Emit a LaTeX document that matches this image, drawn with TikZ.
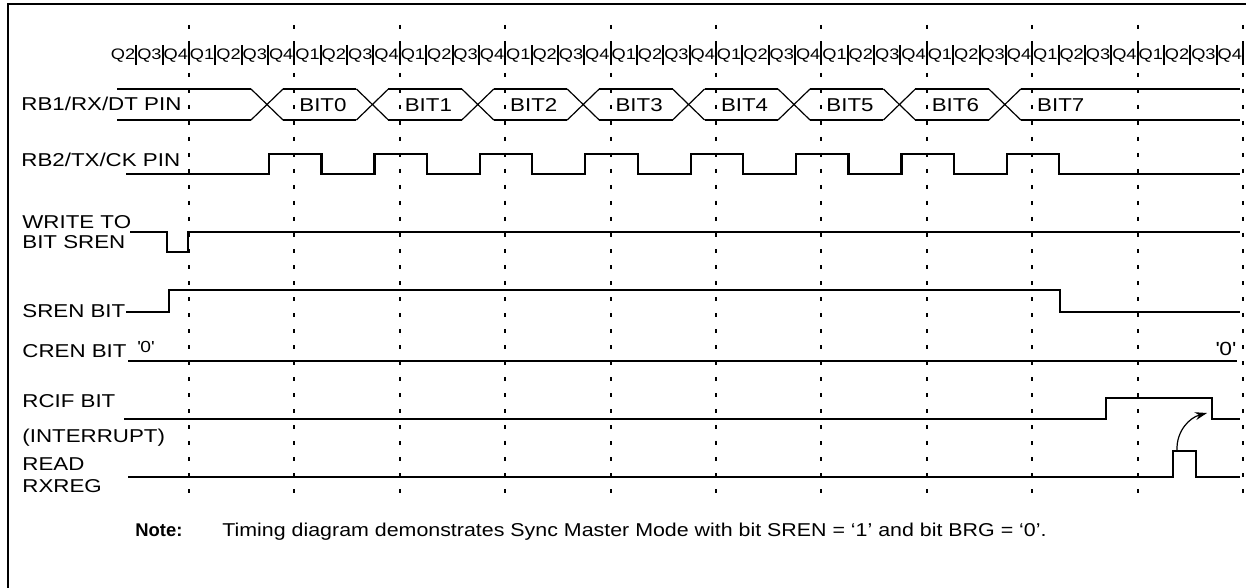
\documentclass[tikz,border=0pt]{standalone}
\usepackage{fontspec}
\setmainfont{Liberation Sans}[FakeStretch=1.2]
\newfontfamily\notefont{Liberation Sans}
\newfontfamily\notewide{Liberation Sans}[FakeStretch=1.15]
\usetikzlibrary{arrows.meta}

\begin{document}
\begin{tikzpicture}[x=0.5pt, y=-0.5pt,
  sig/.style={line width=1.1pt},
  bus/.style={line width=0.6pt},
  grid/.style={line width=1pt, dash pattern=on 2pt off 6pt},
  lbl/.style={anchor=base west, inner sep=0pt, font=\fontsize{9.3}{11}\selectfont},
  qlbl/.style={anchor=base, inner sep=0pt, font=\fontsize{7.6}{8}\selectfont}]
  \useasboundingbox (0,0) rectangle (1246,588);
  \draw[line width=1pt] (7.5,588) -- (7.5,4) -- (1246,4);
  \foreach \k in {0,...,10}
    \draw[grid] ({189+105.4*\k},25) -- ({189+105.4*\k},502);
  \foreach \i in {0,...,42} {
    \pgfmathtruncatemacro{\q}{mod(\i+1,4)+1}
    \node[qlbl] (q\i) at ({123.1+26.35*\i},60) {Q\q};
    \draw[line width=1pt] ({136.3+26.35*\i},45) -- ++(0,20);
  }

  \node[lbl] (rxpin) at (21,111) {RB1/RX/DT PIN};
  \draw[bus] (117,89) -- (251,89) (117,120) -- (251,120);
  \foreach \k in {0,...,7}
    \draw[bus] ({251+105.4*\k},89) -- ({283+105.4*\k},120) ({251+105.4*\k},120) -- ({283+105.4*\k},89);
  \foreach \k in {0,...,6}
    \draw[bus] ({283+105.4*\k},89) -- ({356.4+105.4*\k},89) ({283+105.4*\k},120) -- ({356.4+105.4*\k},120);
  \draw[sig] (1020.8,89) -- (1240,89) (1020.8,120) -- (1240,120);
  \foreach \k in {0,...,7}
    \node[lbl] (bit\k) at ({299+105.4*\k},111.5) {BIT\k};

  \node[lbl] (ckpin) at (21,167) {RB2/TX/CK PIN};
  \draw[sig] (126,174) \foreach \k in {0,...,7} {
      -- ({269+105.4*\k},174) -- ({269+105.4*\k},154)
      -- ({321.4+105.4*\k},154) -- ({321.4+105.4*\k},174)} -- (1240,174);

  \node[lbl] (wrto) at (22,228) {WRITE TO};
  \node[lbl] (wrbit) at (22,249) {BIT SREN};
  \draw[sig] (130,232) -- (167,232) -- (167,252) -- (188,252) -- (188,232) -- (1240,232);

  \node[lbl] (srenbit) at (22,317.5) {SREN BIT};
  \draw[sig] (126,312) -- (169,312) -- (169,290) -- (1060,290) -- (1060,312) -- (1240,312);

  \node[lbl] (crenbit) at (22,357) {CREN BIT};
  \draw[sig] (128,361) -- (1237,361);
  \node[anchor=base west, inner sep=0pt, font=\fontsize{8}{9}\selectfont] (crenlo) at (137,352) {\textquotesingle 0\textquotesingle};
  \node[anchor=base east, inner sep=0pt, font=\fontsize{9.5}{11}\selectfont] (crenhi) at (1236,355) {\textquotesingle 0\textquotesingle};

  \node[lbl] (rcif) at (22,407) {RCIF BIT};
  \node[lbl] (intr) at (22,442) {(INTERRUPT)};
  \draw[sig] (124,419) -- (1106,419) -- (1106,398) -- (1212,398) -- (1212,419) -- (1240,419);

  \node[lbl] (rdread) at (22,470) {READ};
  \node[lbl] (rdreg) at (22,492) {RXREG};
  \draw[sig] (128,477) -- (1173,477) -- (1173,451) -- (1196,451) -- (1196,477) -- (1240,477);

  \coordinate (rdtop) at (1177,450);
  \coordinate (rcfall) at (1207,413);
  \draw[line width=0.6pt, -{Stealth[length=6pt,width=4pt]}] (rdtop) to[out=92,in=195] (rcfall);

  \node[anchor=base west, inner sep=0pt, font=\notefont\bfseries\fontsize{9.2}{11}\selectfont] (notehd) at (135,536) {Note:};
  \node[anchor=base west, inner sep=0pt, font=\notewide\fontsize{9.3}{11}\selectfont] (notetx) at (222,536) {Timing diagram demonstrates Sync Master Mode with bit SREN = ‘1’ and bit BRG = ‘0’.};
\end{tikzpicture}
\end{document}
